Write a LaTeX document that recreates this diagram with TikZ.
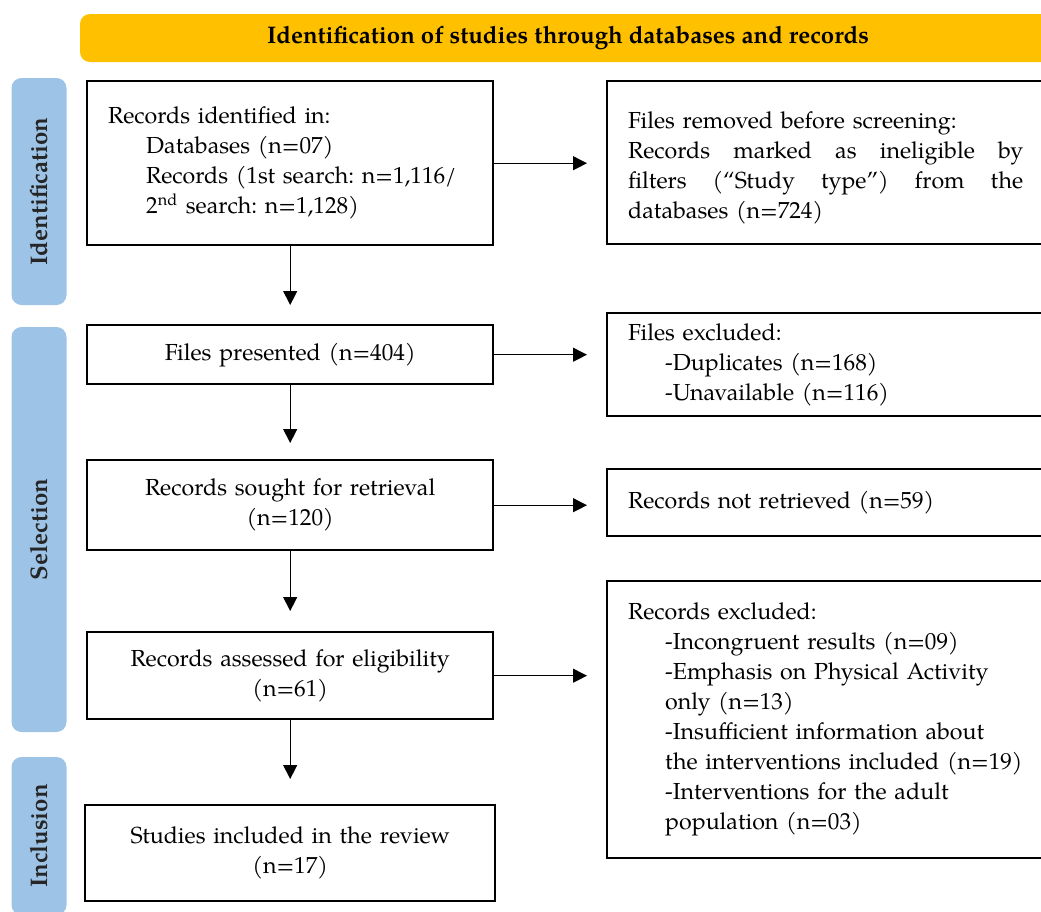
\documentclass[tikz,border=0pt]{standalone}
\usepackage{fontspec}
\setmainfont{TeX Gyre Pagella}
\usetikzlibrary{arrows.meta,calc}
\definecolor{hdrorange}{HTML}{FFC000}
\definecolor{sideblue}{HTML}{9DC3E6}
\frenchspacing
\begin{document}
\begin{tikzpicture}[x=0.5pt,y=-0.5pt,
  font=\fontsize{11.6}{15}\selectfont\frenchspacing,
  flowbox/.style={draw, line width=1.2pt, anchor=north west, inner ysep=0pt, inner xsep=10.5pt},
  leftbox/.style={flowbox, minimum width=203pt, text width=182pt},
  rightbox/.style={flowbox, minimum width=240pt, text width=219pt, align=left},
  sidebar/.style={fill=sideblue, rounded corners=5pt, rotate=90, minimum height=27.5pt, inner sep=0pt, font=\fontsize{12}{15}\selectfont\bfseries, text=black!85},
  arr/.style={-{Triangle[width=7pt,length=7pt]}, line width=0.5pt},
]
\useasboundingbox (0,0) rectangle (1041,912);

% header
\node[fill=hdrorange, rounded corners=5pt, minimum width=488pt, minimum height=24pt, inner sep=0pt, font=\fontsize{12}{15}\selectfont\bfseries] (hdr) at (568,38) {Identification of studies through databases and records};

% side bars
\node[sidebar, minimum width=113.5pt] (sid) at (39,191.5) {Identification};
\node[sidebar, minimum width=202.5pt] (ssel) at (39,529.5) {Selection};
\node[sidebar, minimum width=79pt] (sinc) at (39,836) {Inclusion};

% left column
\node[leftbox, align=left, minimum height=82pt] (b1) at (86,80) {Records identified in:\\
\hspace*{19pt}Databases (n=07)\\
\hspace*{19pt}Records (1st search: n=1,116/\\
\hspace*{19pt}2\textsuperscript{nd} search: n=1,128)};
\node[leftbox, align=center, minimum height=29.5pt] (b2) at (86,324) {Files presented (n=404)};
\node[leftbox, align=center, minimum height=45pt] (b3) at (86,459) {Records sought for retrieval\\(n=120)};
\node[leftbox, align=center, minimum height=43.5pt] (b4) at (86,631) {Records assessed for eligibility\\(n=61)};
\node[leftbox, align=center, minimum height=48pt, minimum width=205pt] (b5) at (84,804) {Studies included in the review\\(n=17)};

% right column
\node[rightbox, minimum height=81.5pt] (r1) at (606,80) {\rule{0pt}{14pt}Files removed before screening:\\
\makebox[197.5pt][s]{Records\hfill marked\hfill as\hfill ineligible\hfill by}\\
\makebox[197.5pt][s]{filters\hfill (“Study\hfill type”)\hfill from\hfill the}\\
databases (n=724)};
\node[rightbox, minimum height=51.5pt] (r2) at (606,312) {Files excluded:\\
\hspace*{18.5pt}-Duplicates (n=168)\\
\hspace*{18.5pt}-Unavailable (n=116)};
\node[rightbox, minimum height=33.5pt] (r3) at (606,468) {Records not retrieved (n=59)};
\node[rightbox, minimum height=138.5pt] (r4) at (606,580) {Records excluded:\\
\hspace*{18.5pt}-Incongruent results (n=09)\\
\hspace*{18.5pt}-Emphasis on Physical Activity\\
\hspace*{18.5pt}only (n=13)\\
\hspace*{18.5pt}-Insufficient information about\\
\hspace*{18.5pt}the interventions included (n=19)\\
\hspace*{18.5pt}-Interventions for the adult\\
\hspace*{18.5pt}population (n=03)};

% vertical arrows
\draw[arr, shorten >=9.5pt] (b1.south) -- (b2.north);
\draw[arr, shorten >=8pt] (b2.south) -- (b3.north);
\draw[arr, shorten >=10pt] (b3.south) -- (b4.north);
\draw[arr, shorten >=12.5pt] (b4.south) -- (b4.south |- b5.north);

% horizontal arrows
\draw[arr, shorten >=9.5pt] (b1.east) -- (b1.east -| r1.west);
\draw[arr, shorten >=9.5pt] (b2.east) -- (b2.east -| r2.west);
\draw[arr, shorten >=9.5pt] (b3.east) -- (b3.east -| r3.west);
\draw[arr, shorten >=9.5pt] (b4.east) -- (b4.east -| r4.west);
\end{tikzpicture}
\end{document}
